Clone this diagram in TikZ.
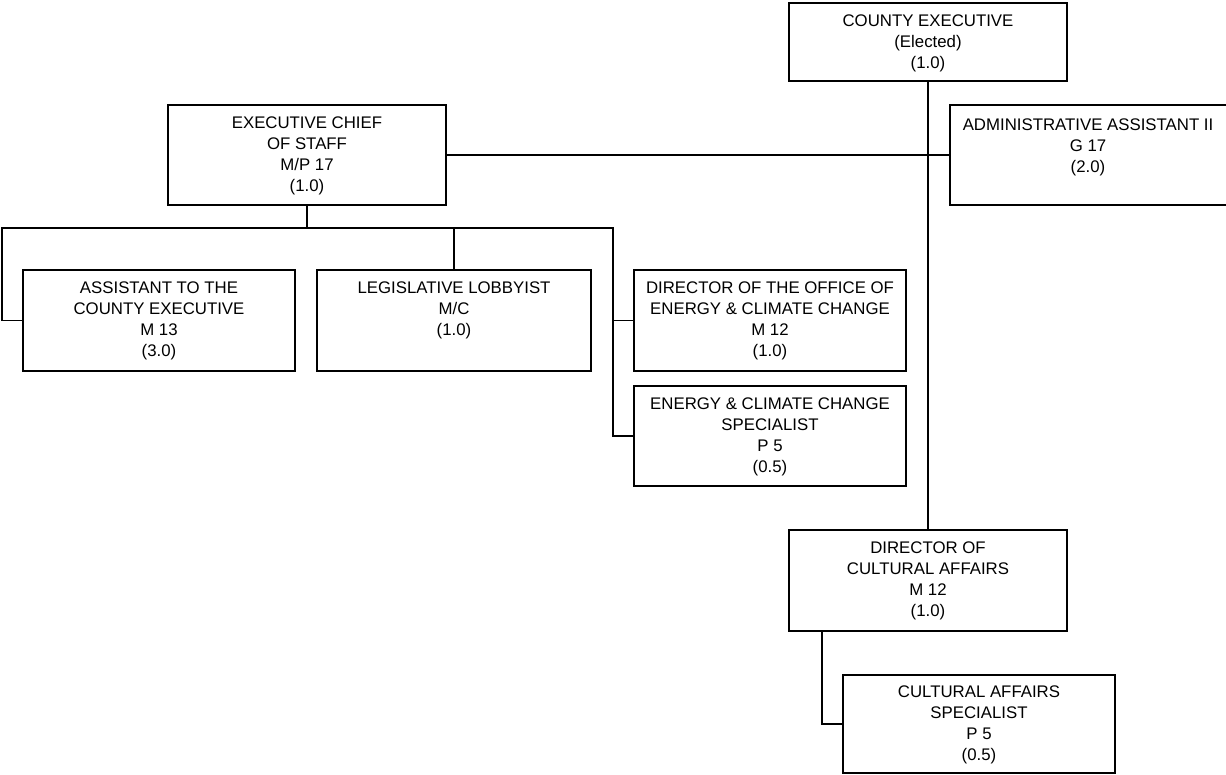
\documentclass[tikz,border=0pt]{standalone}
\usepackage{fontspec}
\setmainfont{Liberation Sans}
\begin{document}
\begin{tikzpicture}[x=1pt,y=-1pt,
  box/.style={draw, line width=1.8pt, inner sep=0pt, outer sep=0pt, anchor=north west, rectangle},
  txt/.style={anchor=north, inner sep=0pt, align=center, font=\fontsize{16.8}{21}\selectfont},
  conn/.style={line width=1.9pt}]
\useasboundingbox (0,0) rectangle (1226,775);
% boxes
\node[box, minimum width=278pt, minimum height=78pt]  (ce)   at (789,3)   {};
\node[box, minimum width=278pt, minimum height=100pt] (ecos) at (168,105) {};
\node[box, minimum width=280pt, minimum height=100pt] (aa)   at (950,105) {};
\node[box, minimum width=272pt, minimum height=101pt] (ast)  at (23,270)  {};
\node[box, minimum width=274pt, minimum height=101pt] (leg)  at (317,270) {};
\node[box, minimum width=272pt, minimum height=101pt] (dir)  at (634,270) {};
\node[box, minimum width=272pt, minimum height=100pt] (spec) at (634,386) {};
\node[box, minimum width=278pt, minimum height=101pt] (dca)  at (789,530) {};
\node[box, minimum width=272pt, minimum height=98pt]  (cas)  at (843,675) {};
% texts
\node[txt] (tce)   at ([yshift=-12pt]ce.north)   {COUNTY EXECUTIVE\\(Elected)\\(1.0)};
\node[txt] (tecos) at ([yshift=-12pt]ecos.north) {EXECUTIVE CHIEF\\OF STAFF\\M/P 17\\(1.0)};
\node[txt] (taa)   at ([yshift=-14pt, xshift=-2pt]aa.north) {ADMINISTRATIVE ASSISTANT II\\G 17\\(2.0)};
\node[txt] (tast)  at ([yshift=-12pt]ast.north)  {ASSISTANT TO THE\\COUNTY EXECUTIVE\\M 13\\(3.0)};
\node[txt] (tleg)  at ([yshift=-12pt]leg.north)  {LEGISLATIVE LOBBYIST\\M/C\\(1.0)};
\node[txt] (tdir)  at ([yshift=-12pt]dir.north)  {DIRECTOR OF THE OFFICE OF\\ENERGY \& CLIMATE CHANGE\\M 12\\(1.0)};
\node[txt] (tspec) at ([yshift=-12pt]spec.north) {ENERGY \& CLIMATE CHANGE\\SPECIALIST\\P 5\\(0.5)};
\node[txt] (tdca)  at ([yshift=-12pt]dca.north)  {DIRECTOR OF\\CULTURAL AFFAIRS\\M 12\\(1.0)};
\node[txt] (tcas)  at ([yshift=-11pt]cas.north)  {CULTURAL AFFAIRS\\SPECIALIST\\P 5\\(0.5)};
% bus coordinates
\coordinate (busL) at (2,228);
\coordinate (busR) at (613,228);
% connectors
\draw[conn] (ce.south) -- (dca.north);
\draw[conn] (ecos.east) -- (ecos.east -| aa.west);
\draw[conn] (ecos.south) -- (ecos.south |- busL);
\draw[conn] (ast.west) -| (busL) -- (busR) |- (spec.west);
\draw[conn] (leg.north) -- (leg.north |- busL);
\draw[conn] (dir.west) -- (dir.west -| busR);
\draw[conn] ([xshift=33pt]dca.south west) |- (cas.west);
\end{tikzpicture}
\end{document}
